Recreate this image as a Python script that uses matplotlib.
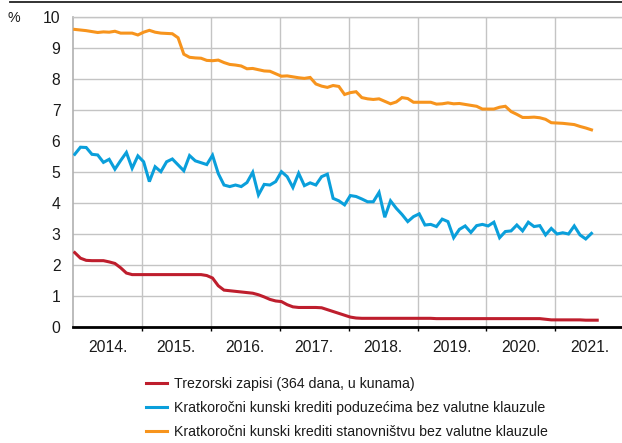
import matplotlib
matplotlib.use("Agg")
import matplotlib.pyplot as plt
import matplotlib.font_manager as fm
from matplotlib.lines import Line2D
import numpy as np

names = {f.name for f in fm.fontManager.ttflist}
if "Liberation Sans Narrow" in names:
    FAM = ["Liberation Sans Narrow", "DejaVu Sans"]
    TICK_FS, LEG_FS = 12.7, 11.4
else:
    FAM = ["Liberation Sans", "DejaVu Sans"]
    TICK_FS, LEG_FS = 11.3, 10.2
plt.rcParams["font.family"] = FAM

# ---- data (monthly, from January 2014) ----
years = [2014, 2015, 2016, 2017, 2018, 2019, 2020, 2021]
year_labels = ["2014.", "2015.", "2016.", "2017.", "2018.", "2019.", "2020.", "2021."]

treasury = [2.40, 2.22, 2.15, 2.14, 2.14, 2.14, 2.10, 2.05, 1.91, 1.74, 1.69, 1.69,
            1.69, 1.69, 1.69, 1.69, 1.69, 1.69, 1.69, 1.69, 1.69, 1.69, 1.69, 1.66,
            1.58, 1.33, 1.19, 1.17, 1.15, 1.13, 1.11, 1.09, 1.04, 0.97, 0.89, 0.84,
            0.82, 0.72, 0.65, 0.63, 0.63, 0.63, 0.63, 0.62, 0.56, 0.50, 0.44, 0.38,
            0.32, 0.29, 0.28, 0.28, 0.28, 0.28, 0.28, 0.28, 0.28, 0.28, 0.28, 0.28,
            0.28, 0.28, 0.28, 0.27, 0.27, 0.27, 0.27, 0.27, 0.27, 0.27, 0.27, 0.27,
            0.27, 0.27, 0.27, 0.27, 0.27, 0.27, 0.27, 0.27, 0.27, 0.27, 0.25, 0.23,
            0.23, 0.23, 0.23, 0.23, 0.23, 0.22, 0.22, 0.22]

corporate = [5.57, 5.80, 5.79, 5.57, 5.55, 5.31, 5.41, 5.09, 5.37, 5.63, 5.12, 5.52,
             5.33, 4.69, 5.17, 5.01, 5.33, 5.42, 5.23, 5.04, 5.53, 5.36, 5.30, 5.24,
             5.54, 4.95, 4.58, 4.53, 4.58, 4.53, 4.66, 4.99, 4.26, 4.60, 4.58, 4.69,
             5.01, 4.85, 4.50, 4.96, 4.56, 4.65, 4.58, 4.85, 4.93, 4.15, 4.07, 3.94,
             4.24, 4.21, 4.13, 4.04, 4.04, 4.34, 3.54, 4.07, 3.83, 3.63, 3.40, 3.56,
             3.65, 3.29, 3.31, 3.24, 3.48, 3.40, 2.88, 3.15, 3.26, 3.05, 3.27, 3.31,
             3.26, 3.38, 2.88, 3.08, 3.10, 3.29, 3.10, 3.38, 3.24, 3.27, 2.97, 3.18,
             3.00, 3.04, 3.00, 3.26, 2.97, 2.84, 3.02]

household = [9.60, 9.58, 9.56, 9.53, 9.50, 9.52, 9.51, 9.54, 9.48, 9.48, 9.48, 9.42,
             9.51, 9.57, 9.51, 9.48, 9.47, 9.46, 9.33, 8.80, 8.70, 8.68, 8.67, 8.60,
             8.59, 8.61, 8.53, 8.47, 8.45, 8.42, 8.33, 8.34, 8.30, 8.26, 8.25, 8.17,
             8.09, 8.10, 8.07, 8.04, 8.02, 8.05, 7.84, 7.77, 7.73, 7.79, 7.76, 7.50,
             7.56, 7.59, 7.40, 7.36, 7.34, 7.36, 7.28, 7.20, 7.26, 7.40, 7.37, 7.25,
             7.25, 7.25, 7.25, 7.19, 7.20, 7.23, 7.20, 7.21, 7.18, 7.15, 7.12, 7.03,
             7.03, 7.03, 7.09, 7.12, 6.95, 6.86, 6.76, 6.76, 6.77, 6.75, 6.70, 6.59,
             6.58, 6.57, 6.55, 6.53, 6.47, 6.42, 6.36]

labels = ["Trezorski zapisi (364 dana, u kunama)",
          "Kratkoročni kunski krediti poduzećima bez valutne klauzule",
          "Kratkoročni kunski krediti stanovništvu bez valutne klauzule"]
colors = ["#BE1E2D", "#0A9FDB", "#F7941D"]

def xs(series):
    return 2014 + (np.arange(len(series)) + 0.3) / 12.0

W, H = 622, 443
fig = plt.figure(figsize=(W / 100, H / 100), dpi=100)
ax = fig.add_axes([73 / W, 1 - 327 / H, 1 - 73 / W, (327 - 17) / H])

for s, c, lab in zip([treasury, corporate, household], colors, labels):
    ax.plot(xs(s), s, color=c, lw=2.2, solid_joinstyle="miter", label=lab, zorder=3)

ax.set_ylim(0, 10)
ax.set_xlim(2014, 2014 + (622 - 73) / 68.9)
ax.set_yticks(range(0, 11))
ax.set_xticks(years[1:])
ax.set_xticklabels([])
ax.set_xticks([y + 0.5 for y in years], minor=True)
ax.set_xticklabels(year_labels, minor=True)

ax.grid(True, which="major", color="#C4C4C4", lw=1.0, zorder=0)
ax.tick_params(axis="y", length=0, pad=9, labelsize=TICK_FS, colors="#1a1a1a")
ax.tick_params(axis="x", which="major", length=3, width=1, color="#000000", direction="out")
ax.tick_params(axis="x", which="minor", length=0, pad=9, labelsize=TICK_FS, labelcolor="#1a1a1a")

ax.spines["right"].set_visible(False)
ax.spines["top"].set_color("#C4C4C4")
ax.spines["top"].set_linewidth(1.0)
ax.spines["left"].set_color("#B0B0B0")
ax.spines["left"].set_linewidth(1.2)
ax.spines["bottom"].set_color("#000000")
ax.spines["bottom"].set_linewidth(2.0)
ax.spines["bottom"].set_zorder(4)

fig.text(8 / W, 1 - 18.5 / H, "%", fontsize=TICK_FS - 1, va="center", ha="left", color="#1a1a1a")

fig.add_artist(Line2D([10 / W, 1.0], [1 - 1.5 / H, 1 - 1.5 / H], color="#222222", lw=1.3))

handles = [Line2D([], [], color=c, lw=2.2) for c in colors]
fig.legend(handles, labels, loc="upper left", bbox_to_anchor=(146 / W, 1 - 377 / H),
           frameon=False, fontsize=LEG_FS, handlelength=1.5, handletextpad=0.45,
           labelspacing=0.72, borderpad=0, borderaxespad=0, labelcolor="#1a1a1a")

fig.savefig("out.png", dpi=100)
